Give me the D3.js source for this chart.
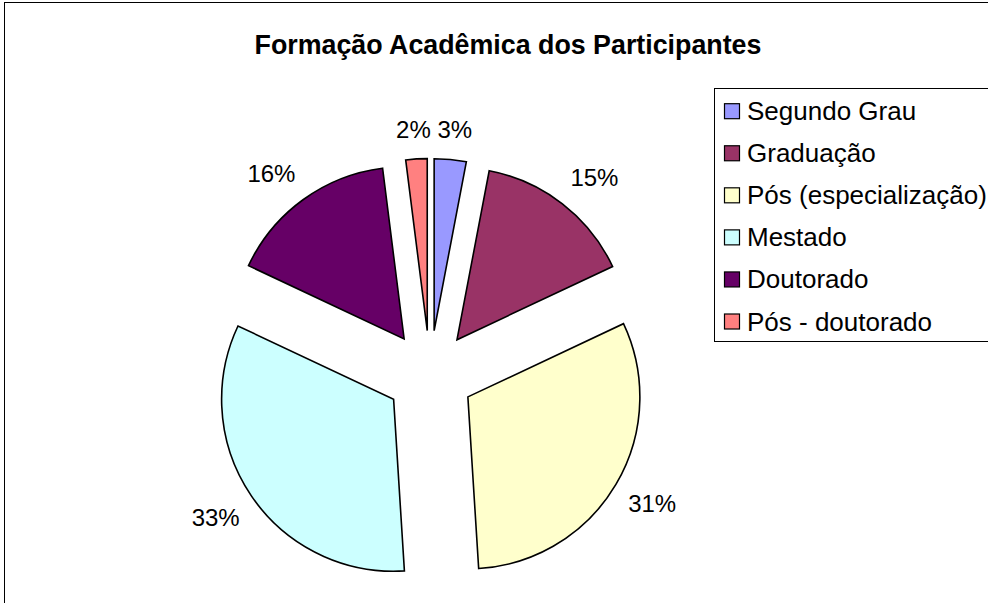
<!DOCTYPE html>
<html>
<head>
<meta charset="utf-8">
<script src="https://cdn.jsdelivr.net/npm/d3@7"></script>
<style>
  body { margin: 0; background: #fff; }
  text { font-family: "Liberation Sans", Arial, sans-serif; }
</style>
</head>
<body>
<script>
// ---- Data ----
const categories = ["Segundo Grau", "Graduação", "Pós (especialização)", "Mestado", "Doutorado", "Pós - doutorado"];
const values = [3, 15, 31, 33, 16, 2];
const colors = ["#9999FF", "#993366", "#FFFFCC", "#CCFFFF", "#660066", "#FF8080"];
const title = "Formação Acadêmica dos Participantes";

const W = 988, H = 603;
const svg = d3.select("body").append("svg").attr("width", W).attr("height", H);

// chart area border (cropped on right/bottom)
svg.append("rect").attr("x", 4.5).attr("y", 2.5).attr("width", 1100).attr("height", 800)
  .attr("fill", "#fff").attr("stroke", "#000").attr("stroke-width", 1);

// title
svg.append("text").attr("x", 508).attr("y", 54)
  .attr("text-anchor", "middle").attr("font-size", 26.8).attr("font-weight", "bold")
  .attr("fill", "#000").text(title);

// pie
const cx = 430, cy = 374.5, R = 172, explode = 44;
const total = d3.sum(values);
const pie = d3.pie().sort(null).value(d => d).startAngle(0).endAngle(2 * Math.PI);
const arcs = pie(values);
const arc = d3.arc().innerRadius(0).outerRadius(R);

const gPie = svg.append("g").attr("transform", `translate(${cx},${cy})`);
arcs.forEach((a, i) => {
  const mid = (a.startAngle + a.endAngle) / 2;
  const ux = Math.sin(mid), uy = -Math.cos(mid);
  gPie.append("path")
    .attr("d", arc(a))
    .attr("transform", `translate(${explode * ux},${explode * uy})`)
    .attr("fill", colors[i])
    .attr("stroke", "#000").attr("stroke-width", 1.6).attr("stroke-linejoin", "miter");
});

// labels
const fs = 24, base = 233, halfH = 13;
arcs.forEach((a, i) => {
  const mid = (a.startAngle + a.endAngle) / 2;
  const ux = Math.sin(mid), uy = -Math.cos(mid);
  const t = gPie.append("text").attr("font-size", fs).attr("fill", "#000")
    .attr("text-anchor", "middle")
    .text(Math.round(values[i] / total * 100) + "%");
  const w = t.node().getComputedTextLength();
  const clamp = v => Math.max(-1, Math.min(1, v));
  const x = base * ux + (w / 2) * clamp(ux * 2) * 0.9;
  const y = base * uy + halfH * clamp(uy * 1.6);
  t.attr("x", x).attr("y", y + 0.358 * fs);
});

// legend
const lg = svg.append("g");
lg.append("rect").attr("x", 714.5).attr("y", 88.5).attr("width", 320).attr("height", 253)
  .attr("fill", "#fff").attr("stroke", "#000").attr("stroke-width", 1);
const rowY = d3.scalePoint().domain(categories).range([111.7, 322]);
categories.forEach((c, i) => {
  const y = rowY(c);
  lg.append("rect").attr("x", 724.5).attr("y", y - 8).attr("width", 15).attr("height", 15)
    .attr("fill", colors[i]).attr("stroke", "#000").attr("stroke-width", 1.2);
  lg.append("text").attr("x", 747).attr("y", y + 8.5)
    .attr("font-size", 26).attr("fill", "#000").text(c);
});
</script>
</body>
</html>
